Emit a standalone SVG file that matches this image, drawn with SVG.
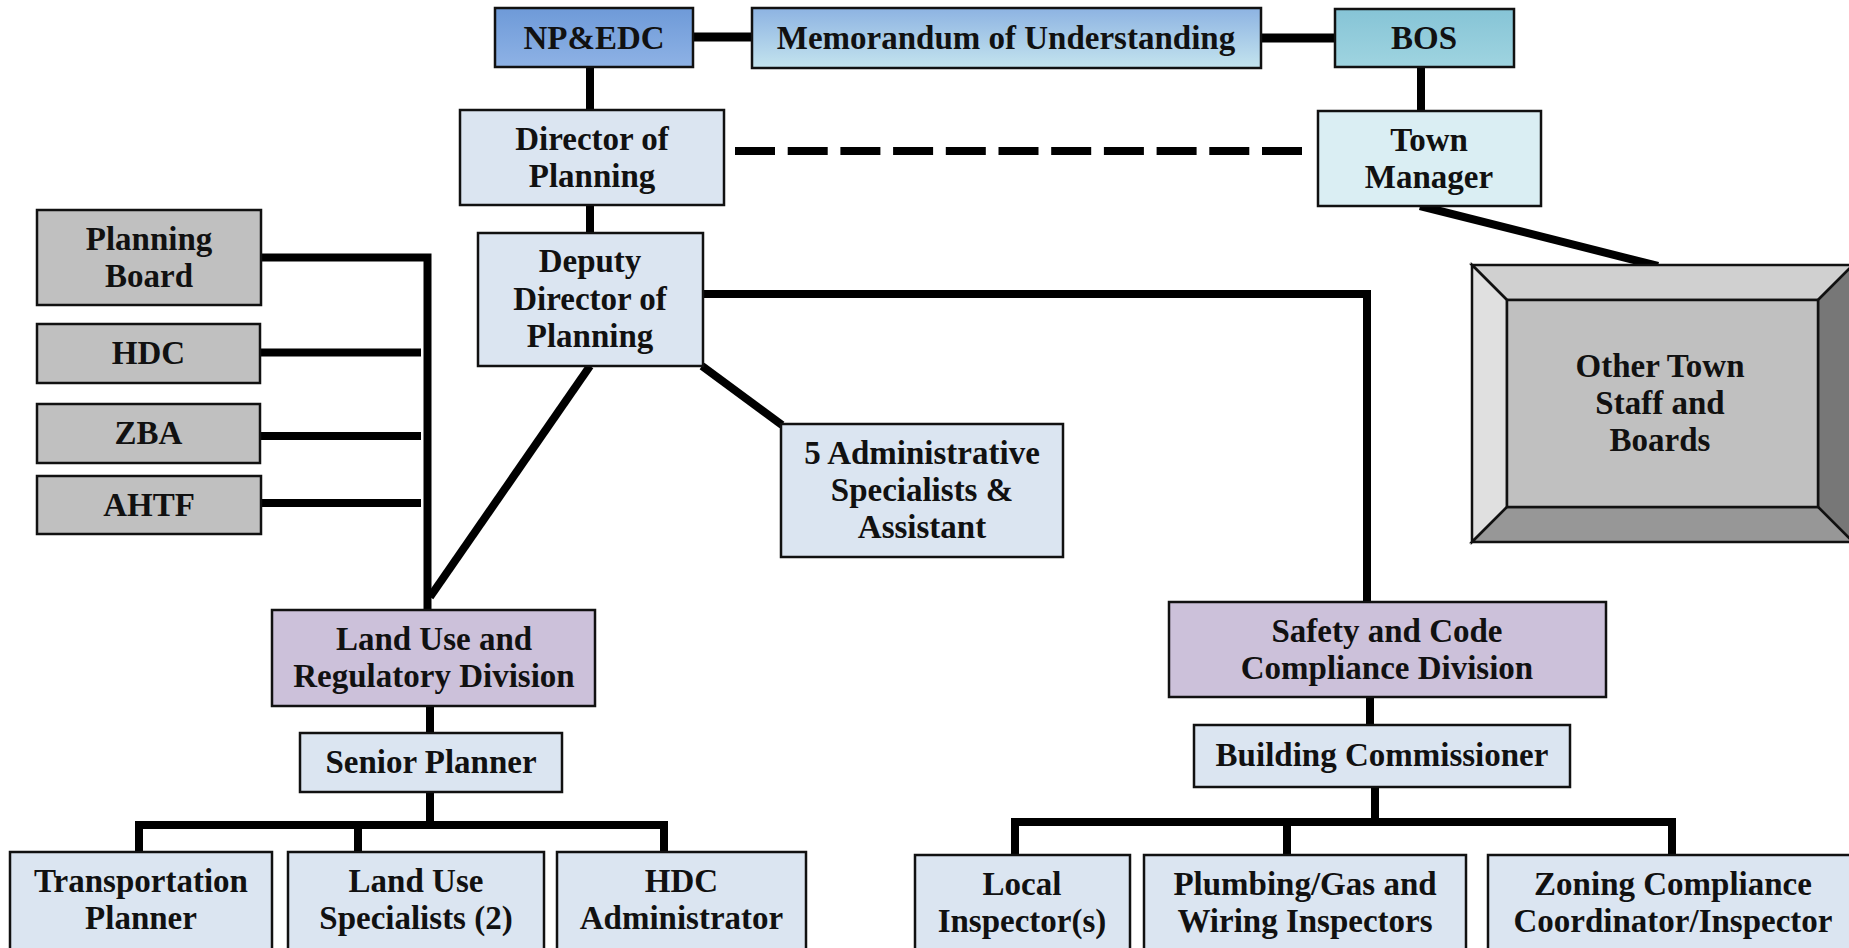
<svg xmlns="http://www.w3.org/2000/svg" width="1849" height="948" viewBox="0 0 1849 948">
<defs>
<linearGradient id="gNP" x1="0" y1="0" x2="0" y2="1"><stop offset="0" stop-color="#6E9AD8"/><stop offset="1" stop-color="#8EB2E5"/></linearGradient>
<linearGradient id="gMemo" x1="0" y1="0" x2="0" y2="1"><stop offset="0" stop-color="#8DB3E2"/><stop offset="1" stop-color="#C4E4EE"/></linearGradient>
<linearGradient id="gBOS" x1="0" y1="0" x2="0" y2="1"><stop offset="0" stop-color="#86C4D6"/><stop offset="1" stop-color="#9FD4E0"/></linearGradient>
</defs>
<style>
.box{stroke:#111;stroke-width:2.5}
.lb{fill:#DBE5F1}
.cy{fill:#DAEEF3}
.lv{fill:#CCC1DA}
.gr{fill:#C0C0C0}
.t{font-family:"Liberation Serif","Times New Roman",serif;font-size:33px;font-weight:bold;fill:#111;text-anchor:middle}
.c{stroke:#000;stroke-width:8;fill:none;stroke-linejoin:miter}
.bev{stroke:#111;stroke-width:2.5;stroke-linejoin:miter}
</style>
<rect width="1849" height="948" fill="#fff"/>
<g id="connectors">
<path class="c" style="stroke-width:9" d="M693 37H752"/>
<path class="c" style="stroke-width:9" d="M1261 38H1335"/>
<path class="c" d="M590 67V110"/>
<path class="c" d="M1421 67V111"/>
<path class="c" stroke-dasharray="40 12.7" d="M735 151H1302"/>
<path class="c" d="M1420 206L1658 266"/>
<path class="c" d="M590 205V233"/>
<path class="c" d="M261 257.5H427.5V610"/>
<path class="c" d="M260 352.5H421"/>
<path class="c" d="M260 436H421"/>
<path class="c" d="M261 503H421"/>
<path class="c" d="M590 366L430 597"/>
<path class="c" d="M703 294H1367V602"/>
<path class="c" d="M702 366L782 425"/>
<path class="c" d="M430 706V733"/>
<path class="c" d="M430 792V825"/>
<path class="c" d="M139 852V825H664V852"/>
<path class="c" d="M358 825V852"/>
<path class="c" d="M1370 697V725"/>
<path class="c" d="M1375 787V822"/>
<path class="c" d="M1015 855V822H1672V855"/>
<path class="c" d="M1287 822V855"/>
</g>
<g id="npedc"><rect class="box" x="495" y="8" width="198" height="59" fill="url(#gNP)"/><text class="t" x="594" y="49">NP&amp;EDC</text></g>
<g id="memo"><rect class="box" x="752" y="8" width="509" height="60" fill="url(#gMemo)"/><text class="t" x="1006" y="49">Memorandum of Understanding</text></g>
<g id="bos"><rect class="box" x="1335" y="9" width="179" height="58" fill="url(#gBOS)"/><text class="t" x="1424" y="49">BOS</text></g>
<g id="director"><rect class="box lb" x="460" y="110" width="264" height="95"/><text class="t" x="592" y="149.5">Director of</text><text class="t" x="592" y="186.5">Planning</text></g>
<g id="townmanager"><rect class="box cy" x="1318" y="111" width="223" height="95"/><text class="t" x="1429" y="150.5">Town</text><text class="t" x="1429" y="187.5">Manager</text></g>
<g id="deputy"><rect class="box lb" x="478" y="233" width="225" height="133"/><text class="t" x="590" y="272">Deputy</text><text class="t" x="590" y="310">Director of</text><text class="t" x="590" y="347">Planning</text></g>
<g id="planningboard"><rect class="box gr" x="37" y="210" width="224" height="95"/><text class="t" x="149" y="249.5">Planning</text><text class="t" x="149" y="286.5">Board</text></g>
<g id="hdc"><rect class="box gr" x="37" y="324" width="223" height="59"/><text class="t" x="148.5" y="364">HDC</text></g>
<g id="zba"><rect class="box gr" x="37" y="404" width="223" height="59"/><text class="t" x="148.5" y="444">ZBA</text></g>
<g id="ahtf"><rect class="box gr" x="37" y="476" width="224" height="58"/><text class="t" x="149" y="515.5">AHTF</text></g>
<g id="admin"><rect class="box lb" x="781" y="424" width="282" height="133"/><text class="t" x="922" y="464">5 Administrative</text><text class="t" x="922" y="501">Specialists &amp;</text><text class="t" x="922" y="538">Assistant</text></g>
<g id="othertown">
<polygon class="bev" points="1472,265 1853,265 1818,300 1507,300" fill="#D0D0D0"/>
<polygon class="bev" points="1472,265 1507,300 1507,507 1472,542" fill="#E0E0E0"/>
<polygon class="bev" points="1853,265 1853,542 1818,507 1818,300" fill="#777777"/>
<polygon class="bev" points="1472,542 1853,542 1818,507 1507,507" fill="#979797"/>
<rect class="box gr" x="1507" y="300" width="311" height="207"/>
<text class="t" x="1660" y="377">Other Town</text><text class="t" x="1660" y="414">Staff and</text><text class="t" x="1660" y="451">Boards</text>
</g>
<g id="landuse"><rect class="box lv" x="272" y="610" width="323" height="96"/><text class="t" x="434" y="650">Land Use and</text><text class="t" x="434" y="687">Regulatory Division</text></g>
<g id="seniorplanner"><rect class="box lb" x="300" y="733" width="262" height="59"/><text class="t" x="431" y="773">Senior Planner</text></g>
<g id="safety"><rect class="box lv" x="1169" y="602" width="437" height="95"/><text class="t" x="1387" y="641.5">Safety and Code</text><text class="t" x="1387" y="678.5">Compliance Division</text></g>
<g id="building"><rect class="box lb" x="1194" y="725" width="376" height="62"/><text class="t" x="1382" y="766">Building Commissioner</text></g>
<g id="transportation"><rect class="box lb" x="10" y="852" width="262" height="110"/><text class="t" x="141" y="892">Transportation</text><text class="t" x="141" y="929">Planner</text></g>
<g id="landusespecialists"><rect class="box lb" x="288" y="852" width="256" height="110"/><text class="t" x="416" y="892">Land Use</text><text class="t" x="416" y="929">Specialists (2)</text></g>
<g id="hdcadmin"><rect class="box lb" x="557" y="852" width="249" height="110"/><text class="t" x="681.5" y="892">HDC</text><text class="t" x="681.5" y="929">Administrator</text></g>
<g id="localinspector"><rect class="box lb" x="915" y="855" width="215" height="110"/><text class="t" x="1022" y="895">Local</text><text class="t" x="1022" y="932">Inspector(s)</text></g>
<g id="plumbing"><rect class="box lb" x="1144" y="855" width="322" height="110"/><text class="t" x="1305" y="895">Plumbing/Gas and</text><text class="t" x="1305" y="932">Wiring Inspectors</text></g>
<g id="zoning"><rect class="box lb" x="1488" y="855" width="375" height="110"/><text class="t" x="1673" y="895">Zoning Compliance</text><text class="t" x="1673" y="932">Coordinator/Inspector</text></g>
</svg>
